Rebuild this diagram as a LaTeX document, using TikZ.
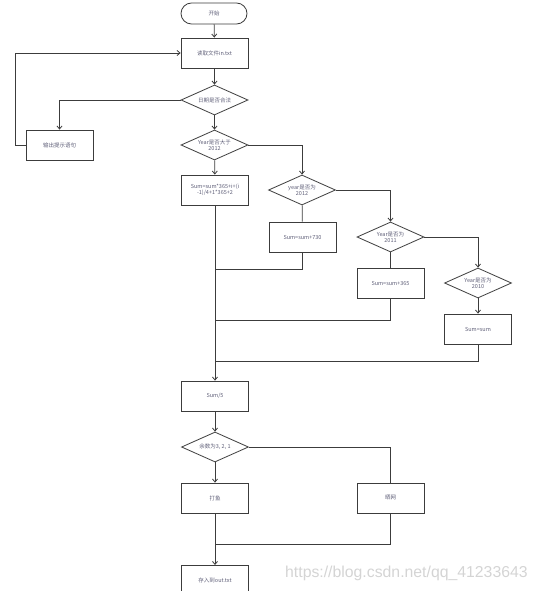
\documentclass[tikz,border=0pt]{standalone}
\usepackage{fontspec}
\setmainfont{Liberation Serif}
\newfontfamily\cjk{Noto Sans CJK SC}
\newfontfamily\wmfont{Liberation Sans}
\usetikzlibrary{shapes.geometric,shapes.misc,arrows.meta}
\definecolor{lc}{RGB}{60,60,60}
\definecolor{tc}{RGB}{95,95,120}
\tikzset{
  every node/.style={font=\cjk\fontsize{5.5}{6.5}\selectfont, text=tc, align=center, inner sep=0pt},
  procbox/.style={draw=lc, line width=0.8pt, rectangle, minimum width=67pt, minimum height=30pt},
  decide/.style={draw=lc, line width=0.8pt, diamond, aspect=2.25, minimum width=67pt, minimum height=30pt},
  startbox/.style={draw=lc, line width=0.8pt, rounded rectangle, minimum width=66pt, minimum height=21pt},
  conn/.style={draw=lc, line width=0.8pt},
  arr/.style={conn, -{Straight Barb[length=3pt,width=5pt]}},
}
\begin{document}
\begin{tikzpicture}[x=1pt,y=-1pt]
\useasboundingbox (0,0) rectangle (537,591);
\node[startbox] (start) at (214,13.5) {开始};
\node[procbox] (read) at (214.5,53) {读取文件in.txt};
\node[decide] (d1) at (214.5,100) {日期是否合法};
\node[procbox] (out) at (59.5,145) {输出提示语句};
\node[decide] (d2) at (214.5,145) {Year是否大于\\2012};
\node[procbox] (f) at (215,190) {Sum=sum*365+i+(i\\-1)/4+1*365+2};
\node[decide] (d3) at (302,190) {year是否为\\2012};
\node[procbox] (b730) at (302.5,237) {Sum=sum+730};
\node[decide] (d4) at (390.5,237) {Year是否为\\2011};
\node[procbox] (b365) at (390.5,283) {Sum=sum+365};
\node[decide] (d5) at (478,283) {Year是否为\\2010};
\node[procbox] (bs) at (478,329) {Sum=sum};
\node[procbox] (s5) at (215,396) {Sum/5};
\node[decide] (d6) at (215,447) {余数为3, 2, 1};
\node[procbox] (fish) at (215,498) {打鱼};
\node[procbox] (net) at (390.5,498) {晒网};
\node[procbox, anchor=north] (save) at (215,565) {存入到out.txt};
\node[font=\wmfont\fontsize{15.8}{18}\selectfont, text=black!17, anchor=west] (wm) at (285,573) {https://blog.csdn.net/qq\_41233643};

\coordinate (c1) at (15,145);
\coordinate (c2) at (15,53);
\coordinate (m1) at (215,269);
\coordinate (m2) at (215,320);
\coordinate (m3) at (215,361);
\coordinate (m4) at (215,544);

\draw[arr] (start) -- (read);
\draw[arr] (read) -- (d1);
\draw[arr] (d1) -- (d2);
\draw[arr] (d1.west) -| (out.north);
\draw[arr] (out.west) -- (c1) -- (c2) -- (read.west);
\draw[arr] (d2) -- (f);
\draw[arr] (d2.east) -| (d3.north);
\draw[conn] (d3) -- (b730);
\draw[arr] (d3.east) -| (d4.north);
\draw[conn] (d4) -- (b365);
\draw[arr] (d4.east) -| (d5.north);
\draw[arr] (d5) -- (bs);
\draw[conn] (b730.south) |- (m1);
\draw[conn] (b365.south) |- (m2);
\draw[conn] (bs.south) |- (m3);
\draw[arr] (f) -- (s5);
\draw[arr] (s5) -- (d6);
\draw[arr] (d6) -- (fish);
\draw[conn] (d6.east) -| (net.north);
\draw[conn] (net.south) |- (m4);
\draw[arr] (fish) -- (save);
\end{tikzpicture}
\end{document}
